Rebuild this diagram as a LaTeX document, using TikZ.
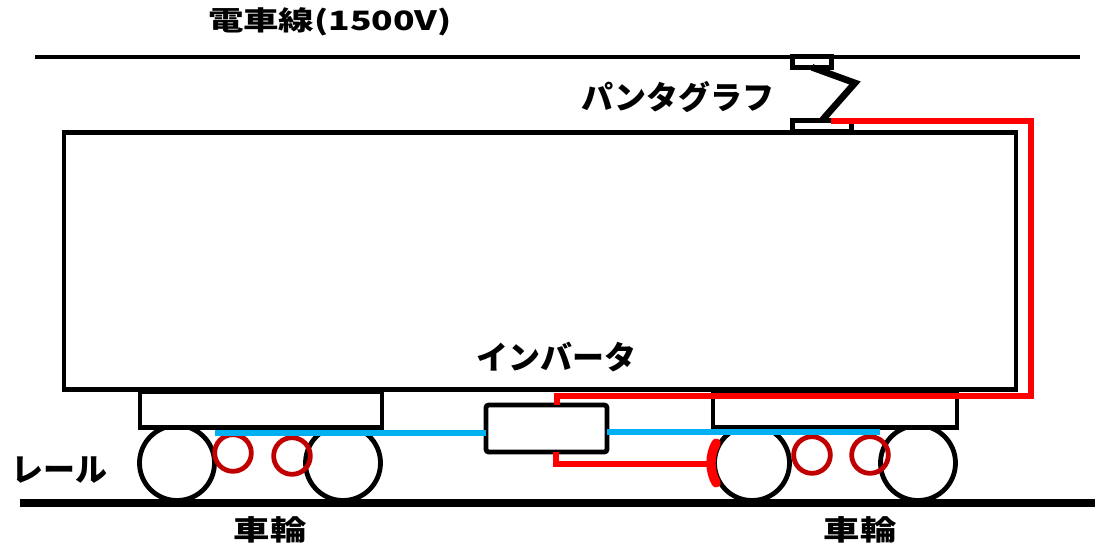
\documentclass[tikz,border=0pt]{standalone}
\usepackage{fontspec}
\newfontfamily\jp{Noto Sans CJK JP}
\definecolor{feedred}{HTML}{FF0000}
\definecolor{motorred}{HTML}{C00000}
\definecolor{linkblue}{HTML}{00B0F0}
\begin{document}
\begin{tikzpicture}[x=0.75pt,y=-0.75pt,
  box/.style={draw=black,line width=3.6pt,fill=white,inner sep=0pt,outer sep=0pt,rectangle},
  wheel/.style={draw=black,line width=3.6pt,fill=white,circle,inner sep=0pt,minimum size=56.25pt},
  motor/.style={draw=motorred,line width=3.6pt,circle,inner sep=0pt,minimum size=27.5pt},
  feeder/.style={draw=feedred,line width=4.8pt},
  shoe/.style={draw=feedred,line width=7pt,line cap=round},
  link/.style={draw=linkblue,line width=5pt},
  arm/.style={draw=black,line width=5pt},
  wire/.style={draw=black,line width=3pt},
  rail/.style={draw=black,line width=5.5pt},
  lbl/.style={font=\jp\bfseries\fontsize{24pt}{28pt}\selectfont,inner sep=0pt}
]
\useasboundingbox (0,0) rectangle (1097,556);

% overhead wire and rail
\coordinate (wireL) at (35,57);
\coordinate (wireR) at (1080,57);
\draw[wire] (wireL) -- (wireR);
\coordinate (railL) at (20,503);
\coordinate (railR) at (1095,503);

% car body
\node[box,minimum width=714pt,minimum height=193pt] (body) at (540,261) {};

% wheels
\node[wheel] (wL1) at (177,463) {};
\node[wheel] (wL2) at (343,463) {};
\node[wheel] (wR1) at (752,463) {};
\node[wheel] (wR2) at (918,463) {};
\draw[rail] (railL) -- (railR);

% bogie frames
\node[box,minimum width=181.5pt,minimum height=27pt] (bogL) at (261,409.5) {};
\node[box,minimum width=183pt,minimum height=27pt] (bogR) at (835,409.5) {};

% traction motors
\node[motor] (mL1) at (233,453) {};
\node[motor] (mL2) at (292,456) {};
\node[motor] (mR1) at (812,455) {};
\node[motor] (mR2) at (870,455) {};

% inverter
\node[box,rounded corners=2pt,minimum width=90.75pt,minimum height=35.25pt] (inv) at (546.5,428.5) {};

% motor links
\coordinate (linkL) at (215,433);
\coordinate (linkR) at (880,432);
\draw[link] (linkL) -- (linkL -| inv.west);
\draw[link] (linkR -| inv.east) -- (linkR);

% pantograph
\node[box,minimum width=29.25pt,minimum height=8pt] (ptop) at (812,62) {};
\node[box,minimum width=44.25pt,minimum height=8.5pt] (pbase) at (822,126) {};
\coordinate (knee) at (855,83);
\draw[arm,line join=miter] (ptop.south) -- (knee) -- (pbase.north);

% high-voltage feed
\coordinate (feed) at (831,121);
\coordinate (bend) at (1031,396);
\draw[feeder] (feed) -| (bend) -| ([xshift=7.9pt]inv.north);

% brake feed and shoe
\coordinate (shoeC) at (709,464);
\draw[feeder] ([xshift=7pt]inv.south) |- (shoeC);
\draw[shoe] (wR1.center) ++(151:41) arc[start angle=151,end angle=209,radius=41];

% labels
\node[lbl,xscale=1.33,font=\jp\bfseries\fontsize{20pt}{22pt}\selectfont] (tw) at (330,22) {電車線(1500V)};
\node[lbl] (tp) at (678,97) {パンタグラフ};
\node[lbl] (ti) at (556,357) {インバータ};
\node[lbl] (tr) at (60,470) {レール};
\node[lbl,xscale=1.3,font=\jp\bfseries\fontsize{21pt}{24pt}\selectfont] (twL) at (270,530) {車輪};
\node[lbl,xscale=1.3,font=\jp\bfseries\fontsize{21pt}{24pt}\selectfont] (twR) at (860,530) {車輪};
\end{tikzpicture}
\end{document}
